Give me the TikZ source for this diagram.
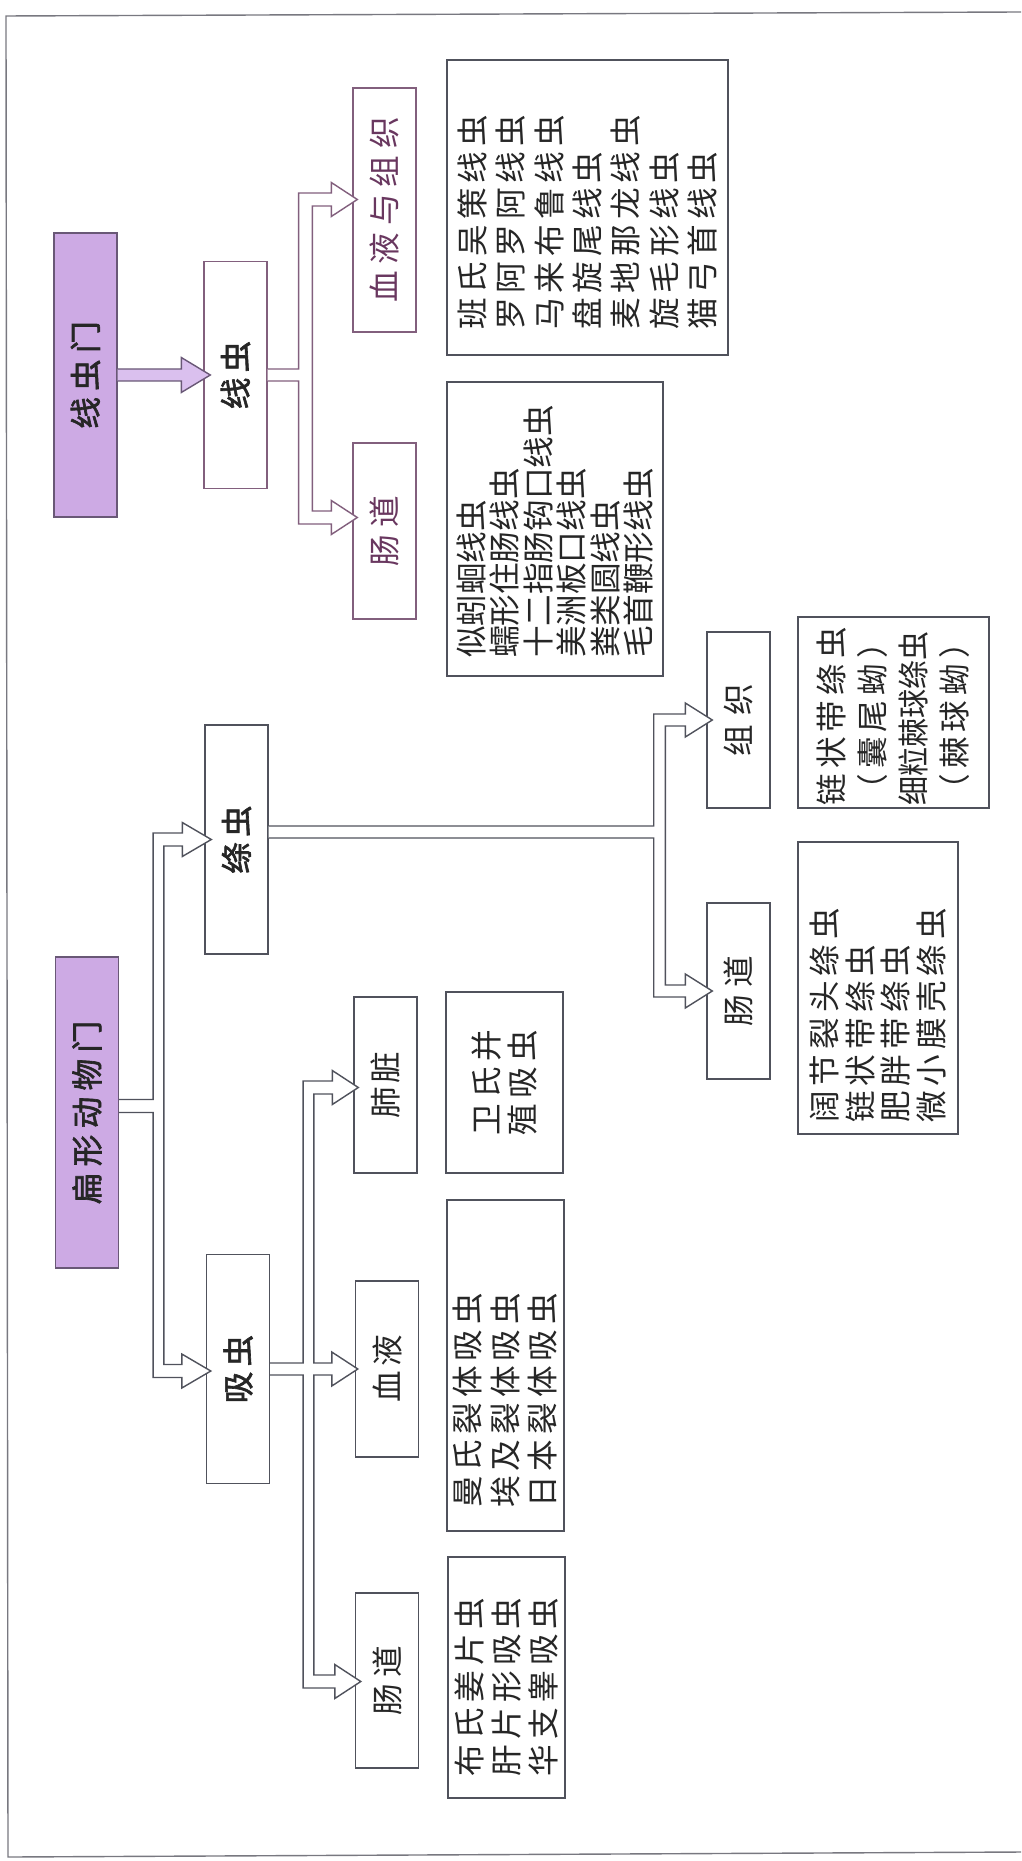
\documentclass[tikz,border=0pt]{standalone}
\usepackage{fontspec}
\usepackage{graphicx}
\usetikzlibrary{calc}

\newfontfamily\cjk[LetterSpace=16]{Noto Sans CJK SC}
\newfontfamily\cjkt{Noto Sans CJK SC}
\newfontfamily\cjkl[LetterSpace=22]{Noto Sans CJK SC}
\newfontfamily\cjkb[FakeBold=2,LetterSpace=20]{Noto Sans CJK SC}

\definecolor{linec}{RGB}{80,82,92}
\definecolor{framec}{RGB}{120,120,128}
\definecolor{plumline}{RGB}{130,95,125}
\definecolor{plumtext}{RGB}{105,55,95}
\definecolor{phyline}{RGB}{105,88,118}
\definecolor{phylum}{RGB}{205,170,228}
\definecolor{phyarrow}{RGB}{218,192,238}

\begin{document}
\begin{tikzpicture}[x=0.02cm, y=-0.02cm,
    lab/.style={draw=linec, fill=white, line width=0.8pt, rotate=90, inner sep=0pt,
                minimum height=1.26cm, text=black!85, font=\cjkl\fontsize{18}{22}\selectfont},
    hdr/.style={lab, font=\cjkb\fontsize{18}{22}\selectfont},
    spec/.style={draw=linec, fill=white, line width=0.8pt, rotate=90, inner ysep=0pt,
                 align=left, text=black!85},
    hollow/.style={draw=linec, fill=white, line width=0.8pt, line join=miter}]

  \useasboundingbox (0,0) rectangle (1021,1861);

  % --- page frame ---
  \draw[framec, line width=0.8pt] (1021,12) -- (6,16) -- (8,1857) -- (1021,1852);

  % --- phyla ---
  \node[hdr, fill=phylum, draw=phyline, minimum width=5.68cm] (xcm) at (85.5,375) {线虫门};
  \node[hdr, fill=phylum, draw=phyline, minimum width=6.22cm] (bxm) at (87,1112.5) {扁形动物门};

  % --- classes ---
  \node[hdr, draw=plumline, minimum width=4.54cm] (xc) at (235.5,375) {线\hspace{3pt}虫};
  \node[hdr, minimum width=4.58cm] (tc) at (236.5,839.5) {绦\hspace{3pt}虫};
  \node[hdr, minimum width=4.58cm] (fc) at (238,1369) {吸\hspace{3pt}虫};

  % --- sites ---
  \node[lab, draw=plumline, text=plumtext, minimum width=4.88cm] (xcBlood) at (384.5,210) {血液与组织};
  \node[lab, draw=plumline, text=plumtext, minimum width=3.52cm] (xcGut) at (384.5,531) {肠\hspace{4pt}道};
  \node[lab, minimum width=3.52cm] (fcLung) at (385.5,1085) {肺\hspace{2pt}脏};
  \node[lab, minimum width=3.52cm] (fcBlood) at (387,1369) {血\hspace{2.5pt}液};
  \node[lab, minimum width=3.50cm] (fcGut) at (387,1680.5) {肠\hspace{4pt}道};
  \node[lab, minimum width=3.52cm] (tcTissue) at (738.5,720) {组\hspace{5pt}织};
  \node[lab, minimum width=3.52cm] (tcGut) at (738.5,991) {肠\hspace{4pt}道};

  % --- species lists ---
  \node[spec, inner xsep=0.5cm, text width=4.9cm, minimum height=5.62cm,
        font=\cjk\fontsize{18}{21.8}\selectfont] (xcBloodSp) at (587.5,207.5)
    {班氏吴策线虫\\罗阿罗阿线虫\\马来布鲁线虫\\盘旋尾线虫\\麦地那龙线虫\\旋毛形线虫\\猫弓首线虫};
  \node[spec, inner xsep=0.36cm, text width=5.16cm, minimum height=4.32cm,
        font=\cjkt\fontsize{18}{19}\selectfont] (xcGutSp) at (555,529)
    {似蚓蛔线虫\\蠕形住肠线虫\\十二指肠钩口线虫\\美洲板口线虫\\粪类圆线虫\\毛首鞭形线虫};
  \node[spec, align=center, inner xsep=0.2cm, text width=3.22cm, minimum height=2.34cm,
        font=\cjk\fontsize{18}{20.4}\selectfont] (fcLungSp) at (504.5,1082.5)
    {卫氏并\\殖吸虫};
  \node[spec, inner xsep=0.46cm, text width=5.7cm, minimum height=2.34cm,
        font=\cjk\fontsize{18}{21.3}\selectfont] (fcBloodSp) at (505.5,1365.5)
    {曼氏裂体吸虫\\埃及裂体吸虫\\日本裂体吸虫};
  \node[spec, inner xsep=0.44cm, text width=3.94cm, minimum height=2.34cm,
        font=\cjk\fontsize{18}{21.3}\selectfont] (fcGutSp) at (506.5,1677.5)
    {布氏姜片虫\\肝片形吸虫\\华支睾吸虫};
  \node[spec, inner xsep=0.22cm, text width=5.4cm, minimum height=3.2cm,
        font=\cjk\fontsize{18}{20.2}\selectfont] (tcGutSp) at (878,988)
    {阔节裂头绦虫\\链状带绦虫\\肥胖带绦虫\\微小膜壳绦虫};
  \node[spec, inner xsep=0.05cm, text width=3.72cm, minimum height=3.82cm,
        font=\cjk\fontsize{18}{23.4}\selectfont] (tcTissueSp) at (893.5,712.5)
    {链状带绦虫\\（囊尾蚴）\\{\cjkt\scalebox{0.92}[1]{细粒棘球绦虫}}\\（棘球蚴）};

  % --- arrow tips ---
  \coordinate (t1) at ($(xcBlood.north)+(5,-10.5)$);
  \coordinate (t2) at ($(xcGut.north)+(5,-13.5)$);
  \coordinate (b1) at ($(tc.north)+(7,0)$);
  \coordinate (b2) at ($(fc.north)+(5,2)$);
  \coordinate (l1) at ($(fcLung.north)+(5,2.5)$);
  \coordinate (l2) at ($(fcBlood.north)+(3,0)$);
  \coordinate (l3) at ($(fcGut.north)+(6,1)$);
  \coordinate (c1) at ($(tcTissue.north)+(6,0)$);
  \coordinate (c2) at ($(tcGut.north)+(6,0)$);

  % 线虫门 -> 线虫
  \draw[line width=0.8pt, draw=phyline, fill=phyarrow, line join=miter]
    ($(xcm.south)+(0,-6)$) -- ($(xc.north)+(-22,-6)$) -- ++(0,-11.5) -- ($(xc.north)+(7,0)$)
    -- ++(-29,17.5) -- ++(0,-11.5) -- ($(xcm.south)+(0,6)$);

  % 线虫 -> 血液与组织 / 肠道
  \draw[hollow, draw=plumline]
    ($(xc.south)+(0,-6)$) -- ++(31,0) |- ($(t1)+(-26,-6.5)$) -- ++(0,-10.5) -- (t1)
    -- ++(-26,17) -- ++(0,-10.5) -| ($(t2)+(-45,-6.5)$) -- ($(t2)+(-26,-6.5)$)
    -- ++(0,-10.5) -- (t2) -- ++(-26,17) -- ++(0,-10.5) -| ($(xc.south)+(31,6)$)
    -- ($(xc.south)+(0,6)$);

  % 扁形动物门 -> 绦虫 / 吸虫
  \draw[hollow]
    ($(bxm.south)+(0,-13)$) -- ++(34,0) |- ($(b1)+(-29,-6.5)$) -- ++(0,-10.5) -- (b1)
    -- ++(-29,17) -- ++(0,-10.5) -| ($(b2)+(-47,-6.5)$) -- ($(b2)+(-29,-6.5)$)
    -- ++(0,-10.5) -- (b2) -- ++(-29,17) -- ++(0,-10.5) -| ($(bxm.south)+(34,0)$)
    -- (bxm.south);

  % 吸虫 -> 肺脏 / 血液 / 肠道
  \draw[hollow]
    ($(fc.south)+(0,-6)$) -- ++(33,0) |- ($(l1)+(-26,-6.5)$) -- ++(0,-10.5) -- (l1)
    -- ++(-26,17) -- ++(0,-10.5) -| ($(l2)+(-44,-6)$) -- ($(l2)+(-26,-6)$)
    -- ++(0,-11) -- (l2) -- ++(-26,17) -- ++(0,-11) -- ++(-18,0)
    |- ($(l3)+(-26,-6.5)$) -- ++(0,-10.5) -- (l3) -- ++(-26,17) -- ++(0,-10.5)
    -| ($(fc.south)+(33,6)$) -- ($(fc.south)+(0,6)$);

  % 绦虫 -> 组织 / 肠道
  \draw[hollow]
    ($(tc.south)+(0,-13.5)$) -- ++(385,0) |- ($(c1)+(-27,-6)$) -- ++(0,-11) -- (c1)
    -- ++(-27,17) -- ++(0,-11) -| ($(c2)+(-47,-6)$) -- ($(c2)+(-27,-6)$)
    -- ++(0,-11) -- (c2) -- ++(-27,17) -- ++(0,-11) -| ($(tc.south)+(385,-1.5)$)
    -- ($(tc.south)+(0,-1.5)$);

\end{tikzpicture}
\end{document}
